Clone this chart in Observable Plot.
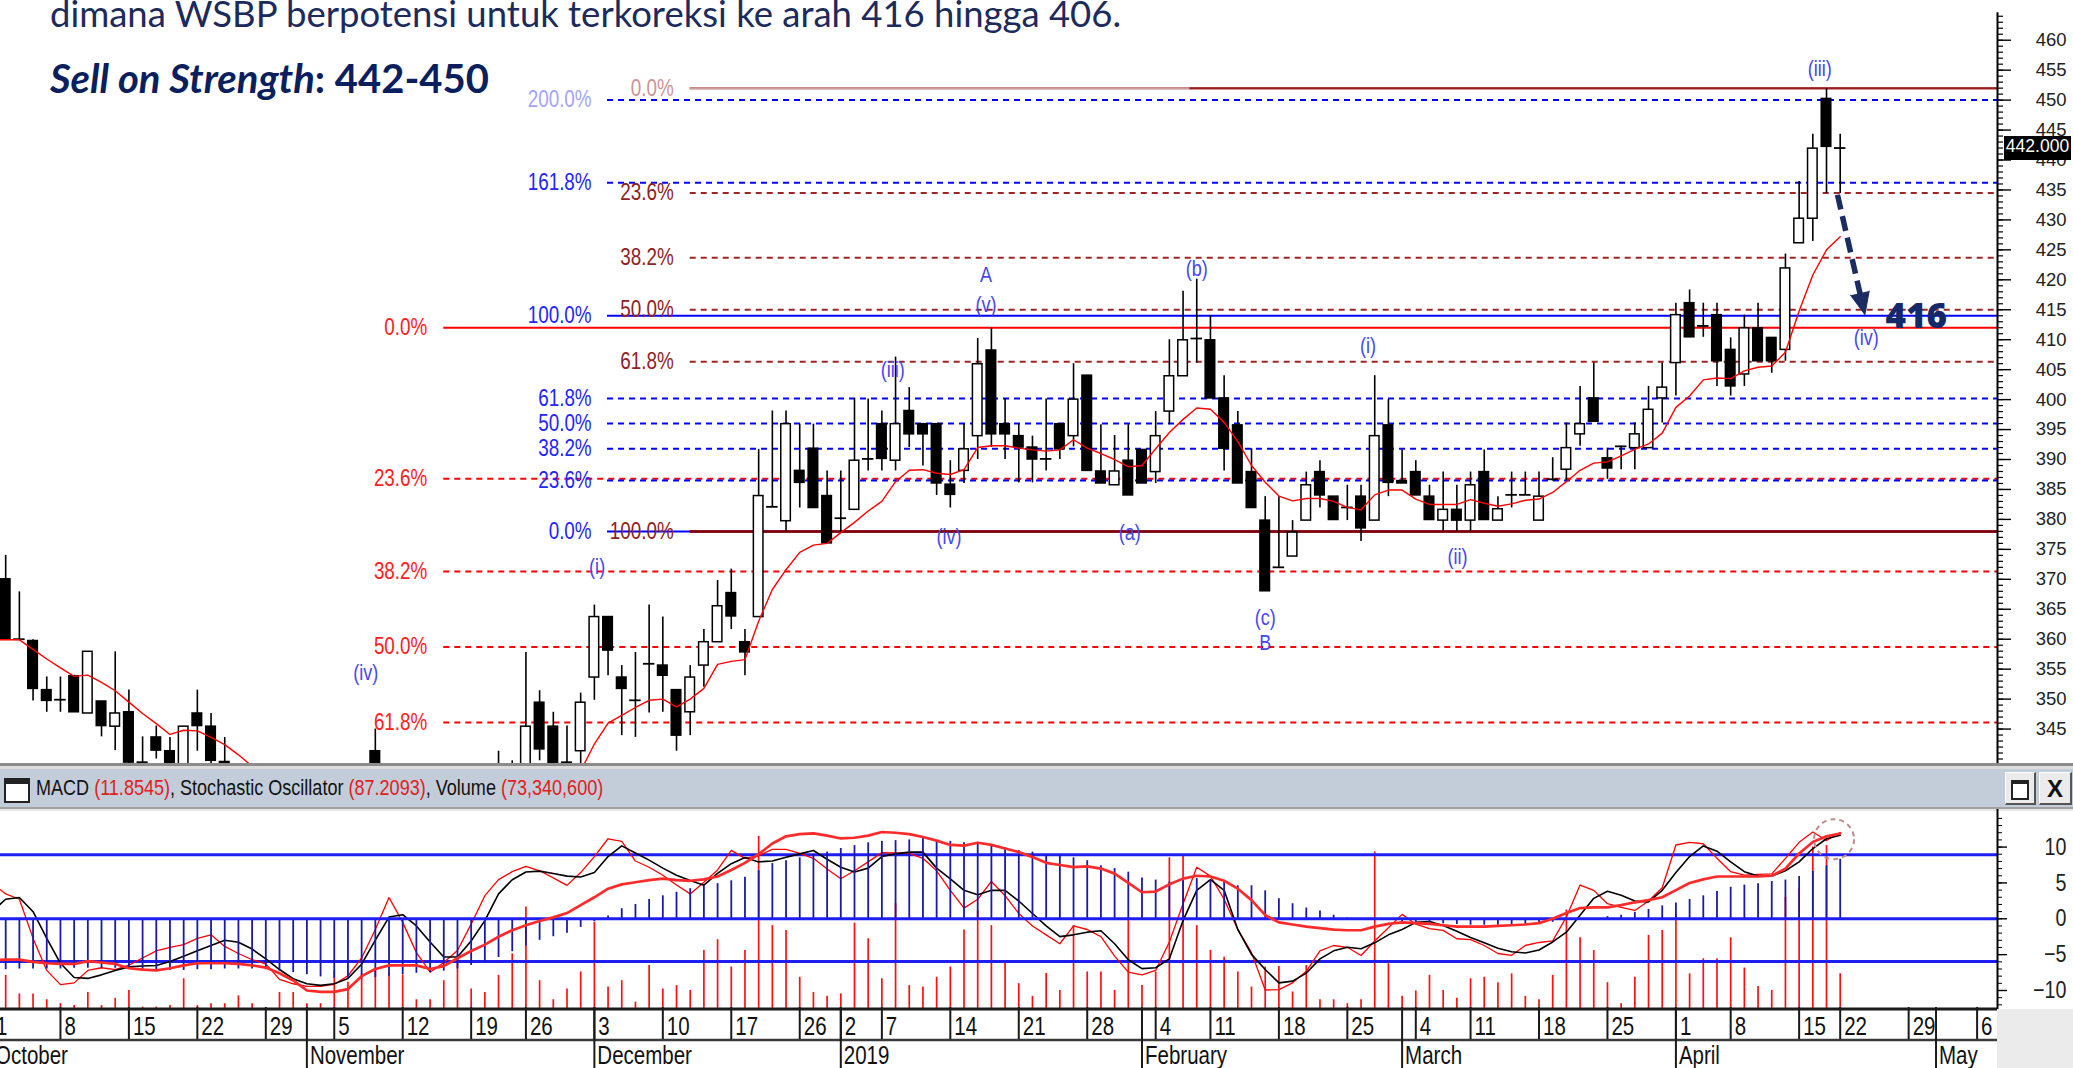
<!DOCTYPE html>
<html><head><meta charset="utf-8">
<script src="https://cdn.jsdelivr.net/npm/d3@7"></script>
<script src="https://cdn.jsdelivr.net/npm/@observablehq/plot@0.6"></script>
<style>
html,body{margin:0;padding:0;background:#fff;}
#root{position:relative;width:2073px;height:1068px;overflow:hidden;background:#fff;}
#root>*{position:absolute;}
</style></head>
<body><div id="root"></div>
<script>
// ---------- DATA (trading-day index 0 = 1 Oct 2018 ... 135 = 22 Apr 2019) ----------
const open = [
 null,370.0,360.0,359.7,351.5,349.9,353.8,347.6,349.6,345.4,347.8,339.4,343.6,341.3,336.0,347.6,345.4,339.5,null,null,null,null,null, // Oct
 null,null,null,null,null,341.3,null,null,null,null,null,null,null,null,335.0,335.0,336.0,349.4,345.4,339.4,341.3, // Nov
 353.6,363.7,353.6,349.8,355.9,355.6,351.5,347.8,355.6,359.5,367.7,359.5,363.7,382.1,379.7,388.1,391.8,383.9, // Dec
 380.2,381.6,390.1,395.9,389.8,398.1,395.9,395.9,385.8,388.1,393.9,408.2,395.9,393.9,392.0,390.1,395.9,393.9,404.0,388.0,385.7,389.8, // Jan
 391.6,387.9,398.0,403.9,410.2,409.9,400.2,395.7,387.9,379.8,372.0,373.8,379.8,387.9,383.8,382.0,383.8,379.8,395.7, // Feb
 386.4,387.9,383.8,379.8,381.6,379.8,387.9,379.8,384.1,384.1,379.8,386.7,388.3,394.2,400.2,390.2,392.2,391.9,391.9,400.2, // Mar
 406.1,416.1,412.3,414.1,408.3,404.2,411.9,410.3,408.3,426.1,430.2,450.2,442.0]; // Apr
const high = [
 null,374.0,367.9,359.9,353.7,353.7,354.0,357.9,349.6,357.9,351.5,343.7,345.5,343.6,345.4,351.5,347.6,343.6,null,null,null,null,null,
 null,null,null,null,null,345.0,null,null,null,null,null,null,null,null,341.3,339.7,357.8,351.4,347.8,345.5,351.0,
 365.7,363.7,355.6,357.8,365.7,363.7,351.5,355.6,361.6,369.8,371.7,361.6,391.7,398.1,398.1,395.9,395.9,388.1,
 388.1,400.2,400.1,398.1,407.1,402.0,395.9,395.9,389.8,395.9,410.2,412.0,400.1,395.9,393.9,400.1,395.9,406.0,404.0,395.8,394.0,395.8,
 391.6,398.0,410.0,418.1,420.1,414.0,404.0,398.0,391.8,383.8,383.8,379.8,387.9,389.8,383.8,385.7,385.7,404.0,400.0,
 391.6,389.8,385.7,387.9,385.7,387.9,391.6,383.8,387.9,387.9,387.9,390.3,396.1,402.2,406.1,391.9,392.2,396.1,402.2,406.1,
 416.1,418.3,416.1,416.1,410.3,414.1,416.1,410.3,424.3,436.4,444.3,451.9,444.3];
const low = [
 null,359.9,359.8,349.7,347.8,347.8,347.8,347.6,343.7,341.4,338.5,335.0,340.0,336.0,335.0,341.3,338.0,336.0,null,null,null,null,null,
 null,null,null,null,null,330.0,null,null,null,null,null,null,null,null,330.0,330.0,334.0,339.7,336.0,337.0,339.0,
 349.8,353.9,343.9,343.6,347.7,347.8,341.3,343.9,352.0,359.5,361.6,353.9,363.7,382.1,378.0,381.9,381.9,376.0,
 377.8,381.6,388.1,388.1,388.1,392.0,388.9,384.0,381.9,386.0,390.0,392.0,390.0,386.1,386.1,388.1,390.0,392.1,388.1,386.0,385.7,384.0,
 386.0,386.0,395.8,403.9,406.1,400.2,388.1,386.0,381.9,368.0,372.0,373.8,379.8,381.9,379.9,379.8,376.3,379.8,383.8,
 386.0,384.0,379.9,378.0,378.0,378.0,379.9,379.8,381.9,384.0,379.8,386.4,386.4,392.2,396.3,386.7,388.3,388.3,391.9,396.1,
 400.6,410.4,410.4,402.2,400.6,402.2,406.4,404.4,406.4,426.1,426.4,434.4,434.4];
const close = [
 null,359.9,360.0,351.7,349.7,349.9,347.8,357.9,345.5,347.6,339.4,336.0,341.4,337.0,345.4,345.5,339.7,338.0,null,null,null,null,null,
 null,null,null,null,null,332.0,null,null,null,null,null,null,null,null,334.0,336.0,345.4,341.6,337.0,338.9,349.4,
 363.7,358.1,351.7,349.8,355.9,353.9,343.9,353.6,359.5,365.5,363.8,357.8,383.9,382.1,395.9,386.1,381.9,376.0,
 380.2,389.8,390.1,390.1,395.9,394.2,394.2,386.0,384.1,391.7,405.9,394.2,394.2,392.0,390.0,390.1,391.7,400.0,388.1,386.0,388.0,384.0,
 386.0,393.9,403.9,409.9,410.2,400.2,391.8,386.0,381.9,368.0,372.0,377.8,385.7,384.0,379.9,382.0,378.5,393.9,386.1,
 386.0,384.0,379.9,381.6,379.8,385.7,379.9,381.7,384.1,384.1,383.8,386.7,391.9,395.9,396.3,388.5,392.2,394.2,398.3,402.0,
 414.1,410.4,412.3,406.4,402.2,411.9,406.4,406.4,421.9,430.2,441.9,442.2,442.0];
const movingAvg = [
 359.9,359.9,359.9,358.3,356.7,355.2,353.8,354.0,352.8,351.4,349.5,347.6,345.9,344.1,344.8,344.7,343.6,342.4,340.7,338.8,336.5,null,null,
 null,null,null,null,null,null,null,null,null,null,null,null,null,null,null,null,null,null,null,334.5,338.0,
 342.5,346.0,347.3,348.6,349.8,350.0,348.7,350.0,351.8,355.8,356.3,356.6,363.0,368.3,371.6,374.5,375.7,376.0,
 377.8,379.5,381.4,383.0,386.3,388.2,388.3,387.7,387.5,388.3,392.0,392.3,392.3,391.9,391.6,391.4,391.6,393.3,391.9,391.0,390.0,388.8,
 389.0,391.8,394.5,396.7,398.6,398.4,396.2,393.0,389.0,386.2,383.9,383.1,383.5,383.5,383.0,382.0,381.6,384.1,384.9,
 384.9,383.4,382.5,382.5,382.5,383.3,382.7,382.2,382.6,383.2,383.4,384.5,386.3,388.2,389.4,389.6,390.6,391.7,392.6,394.4,
 398.7,400.6,403.3,403.6,403.5,404.8,405.4,405.6,407.9,414.8,420.8,425.0,427.2];
const volumeM = [
 60,70,32,32,20,12,8,35,8,23,39,5,5,8,63,8,12,12,28,12,3,35,35,
 12,12,80,56,73,80,74,71,20,20,59,111,42,35,70,114,210,59,20,42,77,
 179,46,59,15,90,42,49,39,121,143,87,121,355,172,162,66,35,27,
 32,177,145,63,217,49,46,66,87,163,202,172,98,53,27,74,39,172,77,77,39,188,
 49,77,311,316,172,121,107,77,46,87,88,36,90,20,20,12,20,323,94,
 27,38,70,39,23,63,66,55,73,27,20,70,204,147,121,55,12,66,152,162,
 196,73,104,104,147,85,47,39,230,247,333,336,73.3];
const macdLine = [
 -5.8,-5.7,-5.7,-6.0,-6.2,-6.3,-6.3,-5.9,-6.1,-6.3,-6.9,-7.1,-7.2,-6.9,-6.5,-6.2,-6.2,-6.2,-6.3,-6.5,-6.8,-7.6,-8.6,
 -10.0,-10.2,-10.2,-9.8,-8.0,-7.0,-6.5,-6.5,-6.5,-7.0,-6.6,-5.5,-4.5,-3.6,-2.5,-1.6,-0.9,-0.3,0.2,0.8,1.9,
 3.0,4.2,4.8,5.1,5.4,5.6,5.4,5.3,5.5,5.9,6.8,7.8,9.0,10.5,11.5,11.8,11.9,11.6,
 11.2,11.3,11.6,12.1,12.0,11.8,11.4,10.9,10.3,10.2,10.6,10.3,9.8,9.3,8.6,7.8,7.5,7.2,7.3,7.0,6.3,5.0,
 3.7,3.8,4.8,5.6,6.0,5.9,5.3,4.2,2.6,0.5,-0.5,-0.8,-1.1,-1.3,-1.5,-1.6,-1.6,-1.1,-0.7,
 -0.5,-0.6,-0.7,-0.9,-1.1,-1.1,-1.1,-1.0,-0.9,-0.8,-0.6,0.0,0.8,1.5,1.6,1.6,1.9,2.3,2.6,3.0,
 4.0,5.0,5.5,5.9,5.9,5.9,5.9,6.0,7.0,9.1,10.7,11.5,11.9];
const macdSignal = [
 -7.1,-7.1,-7.0,-7.0,-7.0,-7.0,-6.9,-6.9,-6.9,-6.9,-7.0,-7.1,-7.2,-7.2,-7.2,-7.1,-7.1,-7.0,-7.0,-7.0,-7.1,-7.3,-7.5,
 -7.8,-8.1,-8.3,-8.4,-8.4,-8.2,-8.0,-7.8,-7.6,-7.5,-7.3,-7.0,-6.5,-6.0,-5.4,-4.6,-3.8,-3.0,-2.5,-2.0,-1.2,
 -0.4,0.4,1.4,2.0,2.7,3.2,3.7,4.2,4.6,4.9,5.3,5.8,6.7,7.7,8.1,8.5,9.0,9.3,
 9.8,10.2,10.6,10.8,10.9,11.0,11.2,10.9,10.8,10.6,10.4,10.1,9.9,9.5,9.3,8.8,8.8,8.5,8.1,7.4,7.0,6.5,
 5.7,5.4,5.1,5.3,5.6,5.3,5.1,4.6,4.6,3.9,2.8,2.1,1.5,1.1,0.5,0.1,-0.1,-0.2,-0.2,
 -0.4,-0.5,-0.6,-0.7,-0.8,-0.9,-0.9,-0.9,-0.9,-0.8,-0.7,-0.5,-0.2,-0.1,0.0,0.3,0.5,0.9,1.3,1.8,
 2.2,2.7,3.2,3.8,4.4,4.7,4.9,5.2,5.4,5.9,6.6,7.4,8.3];
const stochD = [
 48,55,56,48,33,19,11,10.5,12.5,15,17,17.5,17.8,20,23,26,29,32,30.8,27,21.5,15.5,10.3,
 7.5,6.6,7.5,10.5,18.5,32,45,46.3,40,31,22.5,22.5,31.5,43,58,66,70.3,70.8,69.5,68,67.5,
 70,79,85,81,77,72.5,68.5,65.5,62.9,69.5,75,78.5,76,76.5,78.6,80.5,82.4,77.5,
 73,70.3,72.5,79,80.5,81.5,81.5,72.5,66.5,60,57.5,60,60,54,47,40,34,35,36.5,37.3,30,21,
 16,16.5,21.5,43,60,66,60,38,24,15.5,8,9,13.5,21.5,26,28,27.2,30.5,35,
 38,42,42.5,40.2,37,33.5,30.5,27.5,25.5,24.8,26.5,31,36.5,46,55.5,59.5,57.2,54,53.5,60,
 70,79,85,82,76,70.5,68,68,71,76,83.5,89,91];
const stochK = [
 64,58,55,33,15,7,8,15,16.5,15.5,18,22,26,28,29.5,33,35,28.5,24.5,21,18.7,10,7.5,
 6,6,7.2,12,22,38,56,42,25,14,19.5,26.2,41,57,66,70.5,73.5,71,67,62.8,70,
 79,89,87.5,76.5,73,68.5,63,58,64.5,71.5,82.5,78,79.5,83,83,80.8,78,72,
 66.5,71,76,81.2,81,80.8,78,71,60,50,55,65,57,47,40,35,30,40,38,34,23,14,
 12.5,15,31,52.5,73,68,55,38,25,4,4.2,8,14.5,26,29,28,23.4,31.5,39,
 46.5,41,38.5,37.5,32.8,32.3,29,24.5,23.5,29,30.7,31.6,45,63,60,52.5,50.5,48.7,54,61.5,
 85.5,87,86.2,78,70.5,68.6,69,69.3,78,87,92.8,88,92.5];

// date axis
const tickIdx  = [0,5,10,15,20,25,30,35,39,44,49,54,59,62,65,70,75,80,85,89,94,99,104,108,113,118,123,127,132,135,140,145];
const tickText = ["1","8","15","22","29","5","12","19","26","3","10","17","26","2","7","14","21","28","4","11","18","25","4","11","18","25","1","8","15","22","29","6"];
const monthIdx  = [0,23,44,62,84,103,123,142];
const monthText = ["October","November","December","2019","February","March","April","May"];

// Fibonacci sets
const fibRedPrice = [412.0,386.8,371.3,358.7,346.1];
const fibRedText  = ["0.0%","23.6%","38.2%","50.0%","61.8%"];
const fibRedSolid = [true,false,false,false,false];
const fibBluePrice = [450.0,436.2,414.0,400.2,396.0,391.8,386.5,378.0];
const fibBlueText  = ["200.0%","161.8%","100.0%","61.8%","50.0%","38.2%","23.6%","0.0%"];
const fibBlueSolid = [false,false,true,false,false,false,false,true];
const fibBrownPrice = [452.0,434.5,423.7,415.0,406.3,378.0];
const fibBrownText  = ["0.0%","23.6%","38.2%","50.0%","61.8%","100.0%"];
const fibBrownSolid = [true,false,false,false,false,true];
const fibLabelEnd  = [31.8, 43.8, 49.8];   // red, blue, brown (trading-day index)
const fibLineStart = [33.0, 44.96, 51.0];

// Elliott wave labels
const waveText  = ["(iv)","(i)","(iii)","(iv)","A","(v)","(a)","(b)","(c)","B","(i)","(ii)","(iii)","(iv)"];
const waveIdx   = [27.3,44.2,65.8,69.9,72.6,72.6,83.1,88.0,93.0,93.0,100.5,107.05,133.5,136.9];
const wavePrice = [354.4,372.0,405.0,377.0,420.8,415.8,377.7,421.8,363.6,359.3,408.9,373.7,455.2,410.3];

// projection arrow and target
const arrowFrom = [134.8, 434.2];
const arrowTo   = [136.8, 414.2];
const targetText = "416";
const targetPos  = [138.3, 413.8];
const lastPrice = 442.0;

// ---------- LAYOUT ----------
const W = 2073, AXIS_X = 1997;
const xDomain = [0.621, 146.49];
const priceDomain = [339.25, 466.63];
const NARROW = "NarrowSim,'Liberation Sans',Arial,sans-serif";
const ARIAL = "'Liberation Sans',Arial,sans-serif";
const svgStyle = `background:transparent;overflow:visible;max-width:none;font-family:${ARIAL};`;
const root = document.getElementById("root");
function put(el, left, top) { el.style.position = "absolute"; el.style.left = left + "px"; el.style.top = top + "px"; root.appendChild(el); return el; }
function div(html, left, top, css) { const d = document.createElement("div"); d.innerHTML = html; d.style.cssText = css || ""; return put(d, left, top); }
// Arial Narrow look: Liberation Sans squeezed horizontally to 82 %
function squeeze(svg) {
  svg.querySelectorAll('[font-family*="NarrowSim"] text, text[font-family*="NarrowSim"]').forEach(t => {
    const L = t.getComputedTextLength();
    if (L > 0) { t.setAttribute("textLength", (L * 0.82).toFixed(2)); t.setAttribute("lengthAdjust", "spacingAndGlyphs"); }
  });
}

const candles = open.map((o, i) => ({i, o, h: high[i], l: low[i], c: close[i]})).filter(d => d.o != null);
const bodies = candles.filter(d => Math.abs(d.o - d.c) >= 0.15);
const dojis = candles.filter(d => Math.abs(d.o - d.c) < 0.15);
const HB = 0.35;

function fibMarks(prices, texts, solid, k, lineColor, labelColor, specialIdx, specialColor) {
  const rows = prices.map((p, j) => ({p, t: texts[j], s: solid[j], j}));
  return [
    Plot.ruleY(rows.filter(d => !d.s), {y: "p", x1: fibLineStart[k], x2: xDomain[1], stroke: lineColor, strokeWidth: 2, strokeDasharray: "6,5"}),
    Plot.ruleY(rows.filter(d => d.s), {y: "p", x1: fibLineStart[k], x2: xDomain[1], stroke: lineColor, strokeWidth: 2}),
    Plot.text(rows.filter(d => d.j !== specialIdx), {x: fibLabelEnd[k], y: "p", text: "t", textAnchor: "end", fill: labelColor, fontSize: 23, fontFamily: NARROW}),
    Plot.text(rows.filter(d => d.j === specialIdx), {x: fibLabelEnd[k], y: "p", text: "t", textAnchor: "end", fill: specialColor, fontSize: 23, fontFamily: NARROW})
  ];
}

const majorTicks = d3.range(345, 461, 5);
const minorTicks = d3.range(340, 465, 1);
const dxA = (arrowTo[0] - arrowFrom[0]) * (AXIS_X / (xDomain[1] - xDomain[0]));
const dyA = (arrowFrom[1] - arrowTo[1]) * (763 / (priceDomain[1] - priceDomain[0]));
const angA = Math.atan2(dxA, dyA) * 180 / Math.PI;
const shaftEnd = [arrowTo[0] - (arrowTo[0] - arrowFrom[0]) * 0.17, arrowTo[1] + (arrowFrom[1] - arrowTo[1]) * 0.17];

const mainPlot = Plot.plot({
  width: W, height: 765, marginLeft: 0, marginRight: W - AXIS_X, marginTop: 0, marginBottom: 2,
  x: {domain: xDomain, axis: null},
  y: {domain: priceDomain, axis: null, label: null},
  style: svgStyle,
  marks: [
    ...fibMarks(fibRedPrice, fibRedText, fibRedSolid, 0, "#ff0000", "#ff2020", -1, "#ff2020"),
    ...fibMarks(fibBluePrice, fibBlueText, fibBlueSolid, 1, "#0000ff", "#2424ff", 0, "#a4a4ff"),
    ...fibMarks(fibBrownPrice, fibBrownText, fibBrownSolid, 2, "#a02424", "#8e2222", 0, "#cc9494"),
    Plot.ruleY([fibBrownPrice[0]], {x1: fibLineStart[2], x2: xDomain[1], stroke: "#cf9c9c", strokeWidth: 2}),
    Plot.ruleY([fibBrownPrice[0]], {x1: waveIdx[7] - 0.5, x2: xDomain[1], stroke: "#9e1e1e", strokeWidth: 2}),
    Plot.ruleY([fibBrownPrice[5]], {x1: fibLineStart[2], x2: xDomain[1], stroke: "#850000", strokeWidth: 2.5}),
    // candles
    Plot.ruleX(candles, {x: "i", y1: "l", y2: "h", stroke: "#000", strokeWidth: 1.6, clip: true}),
    Plot.rect(bodies.filter(d => d.c < d.o), {x1: d => d.i - HB, x2: d => d.i + HB, y1: "o", y2: "c", fill: "#000", stroke: "#000", strokeWidth: 1.5, clip: true}),
    Plot.rect(bodies.filter(d => d.c >= d.o), {x1: d => d.i - HB, x2: d => d.i + HB, y1: "o", y2: "c", fill: "#fff", stroke: "#000", strokeWidth: 1.5, clip: true}),
    Plot.ruleY(dojis, {y: "c", x1: d => d.i - 0.42, x2: d => d.i + 0.42, stroke: "#000", strokeWidth: 1.8, clip: true}),
    // moving average
    Plot.line(movingAvg, {x: (d, i) => i, y: d => d, stroke: "#ff0000", strokeWidth: 1.4, clip: true}),
    // wave labels
    Plot.text(waveText, {x: (d, i) => waveIdx[i], y: (d, i) => wavePrice[i], text: d => d, fill: "#4646f2", fontSize: 22, fontFamily: NARROW}),
    // arrow
    Plot.link([0], {x1: arrowFrom[0], y1: arrowFrom[1], x2: shaftEnd[0], y2: shaftEnd[1], stroke: "#1b2c63", strokeWidth: 5.5, strokeDasharray: "15,7"}),
    Plot.vector([0], {x: arrowTo[0], y: arrowTo[1], rotate: 180 - angA, length: 22, r: 9.5, shape: "spike", anchor: "end", fill: "#1b2c63", stroke: "#1b2c63", strokeWidth: 1}),
    Plot.text([targetText], {x: targetPos[0], y: targetPos[1], text: d => d, textAnchor: "start", fill: "#14296a", fontSize: 35, fontWeight: 800, fontFamily: "'Open Sans',sans-serif"}),
    // right axis
    Plot.ruleX([xDomain[1]], {y1: priceDomain[0], y2: 464.6, stroke: "#000", strokeWidth: 2}),
    Plot.axisY(minorTicks, {anchor: "right", tickSize: 5, tickFormat: () => "", label: null, strokeWidth: 1.2}),
    Plot.axisY(majorTicks, {anchor: "right", tickSize: 13, tickPadding: 56, textAnchor: "end", label: null, fontSize: 18.5, fill: "#222", strokeWidth: 1.4})
  ]
});
put(mainPlot, 0, 0);
squeeze(mainPlot);

// last price box
const yMain = mainPlot.scale("y");
div(lastPrice.toFixed(3), 2004, yMain.apply(lastPrice) - 12,
  `width:67px;height:24px;line-height:24px;background:#000;color:#fff;font:17.5px ${ARIAL};text-align:center;`);

// window chrome
div("", 0, 763, "width:2073px;height:3px;background:#8c8c8c;");
div("", 0, 766, "width:2073px;height:3px;background:#dcdcdc;");
div("", 0, 769, "width:2073px;height:38px;background:#c2cdd9;");
div("", 0, 807, "width:2073px;height:2px;background:#a2a2a2;");
div("", 0, 809, "width:2073px;height:2px;background:#e6e6e6;");
div("", 4, 778, "width:22px;height:17px;background:#fff;border:2px solid #222;border-top:6px solid #222;");
div('MACD <span style="color:#e02020">(11.8545)</span>, Stochastic Oscillator <span style="color:#e02020">(87.2093)</span>, Volume <span style="color:#e02020">(73,340,600)</span>',
  36, 774, `font:22px ${ARIAL};color:#111;white-space:nowrap;line-height:27px;transform:scaleX(0.82);transform-origin:0 0;`);
div('<div style="width:14px;height:14px;border:2px solid #222;border-top:4px solid #222;margin:7px auto 0;background:#fff"></div>', 2005, 772,
  "width:31px;height:33px;background:#ebebeb;border-top:1px solid #fff;border-left:1px solid #fff;border-right:2px solid #555;border-bottom:2px solid #555;box-sizing:border-box;");
div('X', 2039, 772, `width:33px;height:33px;background:#ebebeb;border-top:1px solid #fff;border-left:1px solid #fff;border-right:2px solid #555;border-bottom:2px solid #555;box-sizing:border-box;font:bold 24px ${ARIAL};text-align:center;line-height:31px;color:#111;`);

// ---------- INDICATOR PANEL ----------
const indBase = {width: W, height: 200, marginLeft: 0, marginRight: W - AXIS_X, marginTop: 0, marginBottom: 0,
  x: {domain: xDomain, axis: null}, style: svgStyle};
const volPlot = Plot.plot({...indBase, y: {domain: [0, 410], axis: null},
  marks: [Plot.ruleX(volumeM, {x: (d, i) => i, y1: 0, y2: d => d, stroke: "#ff1010", strokeWidth: 1.7, clip: true})]});
put(volPlot, 0, 809);
const macdPlot = Plot.plot({...indBase, y: {domain: [-12.65, 15.24], axis: null, label: null},
  marks: [
    Plot.ruleX(macdSignal, {x: (d, i) => i, y1: 0, y2: d => d, stroke: "#1a1aa6", strokeWidth: 1.8, clip: true}),
    Plot.ruleY([0], {stroke: "#1e1ef0", strokeWidth: 3}),
    Plot.line(macdLine, {x: (d, i) => i, y: d => d, stroke: "#ff2a2a", strokeWidth: 2.7, clip: true}),
    Plot.dot([0], {x: 134.55, y: 11.1, r: 20, stroke: "#c48a8a", strokeWidth: 2, strokeDasharray: "5,4", fill: "none"}),
    Plot.ruleX([xDomain[1]], {stroke: "#000", strokeWidth: 2}),
    Plot.axisY(d3.range(-12, 15, 1), {anchor: "right", tickSize: 4, tickFormat: () => "", label: null}),
    Plot.axisY([-10, -5, 0, 5, 10], {anchor: "right", tickSize: 9, tickPadding: 60, textAnchor: "end", label: null, fontSize: 24, fontFamily: NARROW, fill: "#222", strokeWidth: 1.4})
  ]});
const stochPlot = Plot.plot({...indBase, y: {domain: [-6.97, 105.45], axis: null},
  marks: [
    Plot.ruleY([20, 80], {stroke: "#1e1ef0", strokeWidth: 3}),
    Plot.line(stochK, {x: (d, i) => i, y: d => d, stroke: "#ff0000", strokeWidth: 1.3, clip: true}),
    Plot.line(stochD, {x: (d, i) => i, y: d => d, stroke: "#000", strokeWidth: 1.6, clip: true})
  ]});
put(stochPlot, 0, 809);
put(macdPlot, 0, 809);
squeeze(macdPlot);

// ---------- DATE AXIS ----------
div("", AXIS_X, 1009, "width:76px;height:59px;background:#ebebeb;");
const datePlot = Plot.plot({width: W, height: 61, marginLeft: 0, marginRight: W - AXIS_X, marginTop: 0, marginBottom: 0,
  x: {domain: xDomain, axis: null}, y: {domain: [0, 61], range: [0, 61], axis: null}, style: svgStyle,
  marks: [
    Plot.ruleY([1.5], {x1: xDomain[0], x2: xDomain[1], stroke: "#1a1a1a", strokeWidth: 3}),
    Plot.ruleY([32.5], {x1: xDomain[0], x2: xDomain[1], stroke: "#3a3a3a", strokeWidth: 2.5}),
    Plot.ruleX(tickIdx, {x: d => d, y1: 0, y2: 32, stroke: "#1a1a1a", strokeWidth: 2}),
    Plot.ruleX(monthIdx, {x: d => d, y1: 0, y2: 61, stroke: "#1a1a1a", strokeWidth: 2}),
    Plot.text(tickText, {x: (d, i) => tickIdx[i], y: 19, text: d => d, textAnchor: "start", dx: 4, fontSize: 25, fontFamily: NARROW, fill: "#111"}),
    Plot.text(monthText, {x: (d, i) => monthIdx[i], y: 48, text: d => d, textAnchor: "start", dx: 3, fontSize: 25, fontFamily: NARROW, fill: "#111"})
  ]});
put(datePlot, 0, 1007);
squeeze(datePlot);

// ---------- COMMENTARY TEXT ----------
div("dimana WSBP berpotensi untuk terkoreksi ke arah 416 hingga 406.", 50, -9,
  "font:36.5px Lato,sans-serif;color:#1c2a5c;white-space:nowrap;line-height:44px;");
div("<i>Sell on Strength</i>: 442-450", 50, 54,
  "font:bold 40px Lato,sans-serif;color:#0b1f5e;white-space:nowrap;line-height:48px;");
</script></body></html>
